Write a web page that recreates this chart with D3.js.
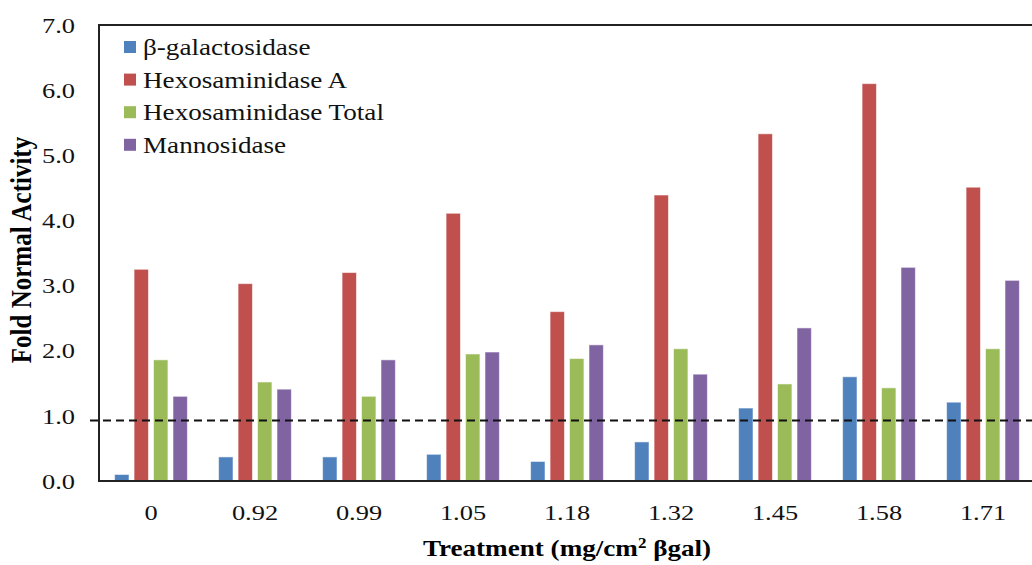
<!DOCTYPE html>
<html>
<head>
<meta charset="utf-8">
<script src="https://cdn.jsdelivr.net/npm/d3@7"></script>
<style>
  body { margin: 0; background: #fff; }
  svg { display: block; font-family: "Liberation Serif", "Times New Roman", serif; }
</style>
</head>
<body>
<svg id="chart" width="1032" height="565"></svg>
<script>
// values
const treatments = ['0', '0.92', '0.99', '1.05', '1.18', '1.32', '1.45', '1.58', '1.71']
const seriesNames = ['β-galactosidase', 'Hexosaminidase A', 'Hexosaminidase Total', 'Mannosidase']
const betaGal = [0.10, 0.37, 0.37, 0.41, 0.30, 0.60, 1.12, 1.60, 1.21]
const hexA = [3.25, 3.03, 3.20, 4.11, 2.60, 4.39, 5.33, 6.10, 4.51]
const hexTotal = [1.86, 1.52, 1.30, 1.95, 1.88, 2.03, 1.49, 1.43, 2.03]
const mannosidase = [1.30, 1.41, 1.86, 1.98, 2.09, 1.64, 2.35, 3.28, 3.08]
const yTicks = [0, 1, 2, 3, 4, 5, 6, 7]
const baselineLevel = 0.93

const colors = ['#4f81bd', '#c0504d', '#9bbb59', '#8064a2']
const seriesValues = [betaGal, hexA, hexTotal, mannosidase]

const svg = d3.select('#chart')
const plotLeft = 99, plotRight = 1035, plotTop = 25, plotBottom = 481
const stretch = 1.2 // the source text is drawn a bit wide

let x0 = d3.scaleBand()
  .domain(treatments)
  .range([plotLeft, plotRight])
  .paddingInner(0.3)
  .paddingOuter(0.15)
let x1 = d3.scaleBand()
  .domain(d3.range(seriesNames.length))
  .range([0, x0.bandwidth()])
  .paddingInner(0.26)
let y = d3.scaleLinear().domain([0, 7]).range([plotBottom, plotTop])

// bars
let rows = treatments.map(function(t, i) {
  return seriesValues.map(function(vals, s) { return { t: t, s: s, v: vals[i] } })
})
let groups = svg.append('g').selectAll('g')
  .data(rows)
  .enter()
  .append('g')
  .attr('transform', function(d) { return 'translate(' + x0(d[0].t) + ',0)' })
groups.selectAll('rect')
  .data(function(d) { return d })
  .enter()
  .append('rect')
  .attr('x', function(d) { return x1(d.s) })
  .attr('width', x1.bandwidth())
  .attr('y', function(d) { return y(d.v) })
  .attr('height', function(d) { return y(0) - y(d.v) })
  .style('fill', function(d) { return colors[d.s] })
  .style('stroke', 'rgba(255,255,255,0.55)')
  .style('stroke-width', 1)

// dashed reference line
svg.append('line')
  .attr('x1', 90).attr('x2', 1032)
  .attr('y1', y(baselineLevel)).attr('y2', y(baselineLevel))
  .style('stroke', '#111')
  .style('stroke-width', 2)
  .style('stroke-dasharray', '8,5')

// frame
svg.append('path')
  .attr('d', 'M1032,' + plotTop + 'H' + plotLeft + 'V' + plotBottom + 'H1032')
  .style('fill', 'none')
  .style('stroke', '#222')
  .style('stroke-width', 2)

// y tick labels
svg.append('g').selectAll('text')
  .data(yTicks)
  .enter()
  .append('text')
  .attr('transform', function(d) { return 'translate(75,' + y(d) + ') scale(' + stretch + ',1)' })
  .attr('text-anchor', 'end')
  .attr('dy', '0.35em')
  .style('font-size', '22px')
  .style('fill', '#111')
  .text(function(d) { return d3.format('.1f')(d) })

// x tick labels
svg.append('g').selectAll('text')
  .data(treatments)
  .enter()
  .append('text')
  .attr('transform', function(d) { return 'translate(' + (x0(d) + x0.bandwidth() / 2) + ',520) scale(' + stretch + ',1)' })
  .attr('text-anchor', 'middle')
  .style('font-size', '22px')
  .style('fill', '#111')
  .text(function(d) { return d })

// axis titles
let xt = svg.append('text')
  .attr('transform', 'translate(567,556) scale(1.13,1)')
  .attr('text-anchor', 'middle')
  .style('font-size', '24px')
  .style('font-weight', 'bold')
xt.append('tspan').text('Treatment (mg/cm')
xt.append('tspan').attr('dy', -8).style('font-size', '15px').text('2')
xt.append('tspan').attr('dy', 8).text(' βgal)')

svg.append('text')
  .attr('transform', 'translate(31,250) rotate(-90) scale(1,' + stretch + ')')
  .attr('text-anchor', 'middle')
  .style('font-size', '25px')
  .style('font-weight', 'bold')
  .text('Fold Normal Activity')

// legend
let legend = svg.append('g').selectAll('g')
  .data(seriesNames)
  .enter()
  .append('g')
  .attr('transform', function(d, i) { return 'translate(124,' + (47 + i * 32.6) + ')' })
legend.append('rect')
  .attr('x', 0).attr('y', -6)
  .attr('width', 12).attr('height', 12)
  .style('fill', function(d, i) { return colors[i] })
legend.append('text')
  .attr('transform', 'translate(19,0) scale(1.18,1)')
  .attr('dy', '0.35em')
  .style('font-size', '23px')
  .style('fill', '#111')
  .text(function(d) { return d })
</script>
</body>
</html>
